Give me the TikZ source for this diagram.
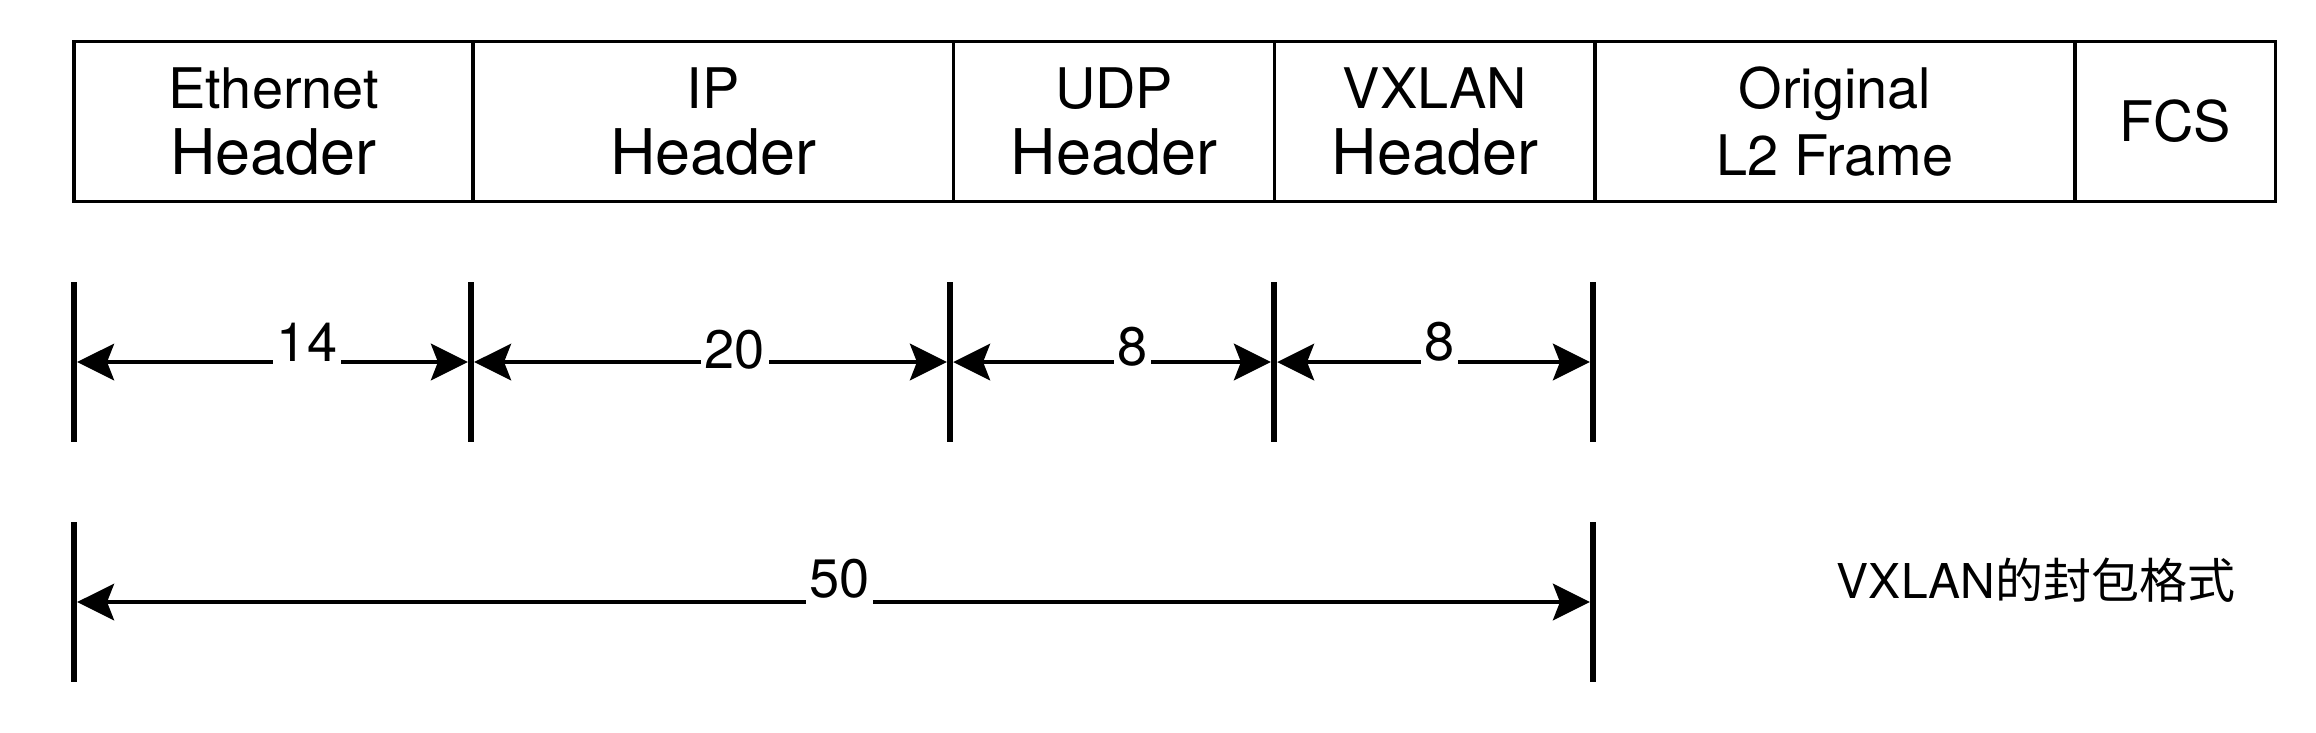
\documentclass[tikz,border=0pt]{standalone}
\usepackage{fontspec}
\setmainfont{TeX Gyre Heros}
\newfontfamily\cjk{Noto Sans CJK SC}
\usepackage{tikz}
\usetikzlibrary{positioning,arrows.meta}
\newcommand{\hdr}{{\fontsize{17.9}{19}\selectfont Header}}

\begin{document}
\begin{tikzpicture}[x=0.01cm,y=-0.01cm,
    field/.style={draw,line width=1pt,minimum height=1.6cm,outer sep=0pt,inner sep=0pt,
      align=center,font=\fontsize{15.9}{19}\selectfont},
    tick/.style={line width=1.95pt},
    dim/.style={line width=1pt,{Stealth[length=10.5pt,width=10.4pt,inset=2pt]}-{Stealth[length=10.5pt,width=10.4pt,inset=2pt]},
      shorten <=0.9pt,shorten >=0.9pt},
    num/.style={fill=white,inner xsep=1pt,inner ysep=2pt,font=\fontsize{15.4}{18}\selectfont}]
  \useasboundingbox (0,0) rectangle (2316,732);

  \node[field,minimum width=3.99cm,anchor=north west] (eth) at (74,41.5) {Ethernet\\\hdr};
  \node[field,minimum width=4.8cm,right=0pt of eth] (ip) {IP\\\hdr};
  \node[field,minimum width=3.21cm,right=0pt of ip] (udp) {UDP\\\hdr};
  \node[field,minimum width=3.2cm,right=0pt of udp] (vxlan) {VXLAN\\\hdr};
  \node[field,minimum width=4.8cm,right=0pt of vxlan] (orig) {Original\\L2 Frame};
  \node[field,minimum width=2cm,right=0pt of orig] (fcs) {FCS};

  \foreach \n/\x in {0/74,1/471,2/950,3/1274,4/1593} {
    \coordinate (m\n) at (\x,362);
    \draw[tick] (\x,282) -- (\x,442);
  }
  \foreach \n/\x in {0/74,1/1593} {
    \coordinate (w\n) at (\x,602);
    \draw[tick] (\x,522) -- (\x,682);
  }

  \draw[dim] (m0) -- node[num,pos=.587,yshift=0.195cm] (l14) {14} (m1);
  \draw[dim] (m1) -- node[num,pos=.551,yshift=0.12cm] (l20) {20} (m2);
  \draw[dim] (m2) -- node[num,pos=.562,yshift=0.15cm] (l8a) {8} (m3);
  \draw[dim] (m3) -- node[num,pos=.52,yshift=0.2cm] (l8b) {8} (m4);
  \draw[dim] (w0) -- node[num,pos=.504,yshift=0.235cm] (l50) {50} (w1);

  \node[font=\fontsize{13.65}{16}\selectfont] (cap) at (2036,580) {VXLAN{\cjk 的封包格式}};
\end{tikzpicture}
\end{document}
